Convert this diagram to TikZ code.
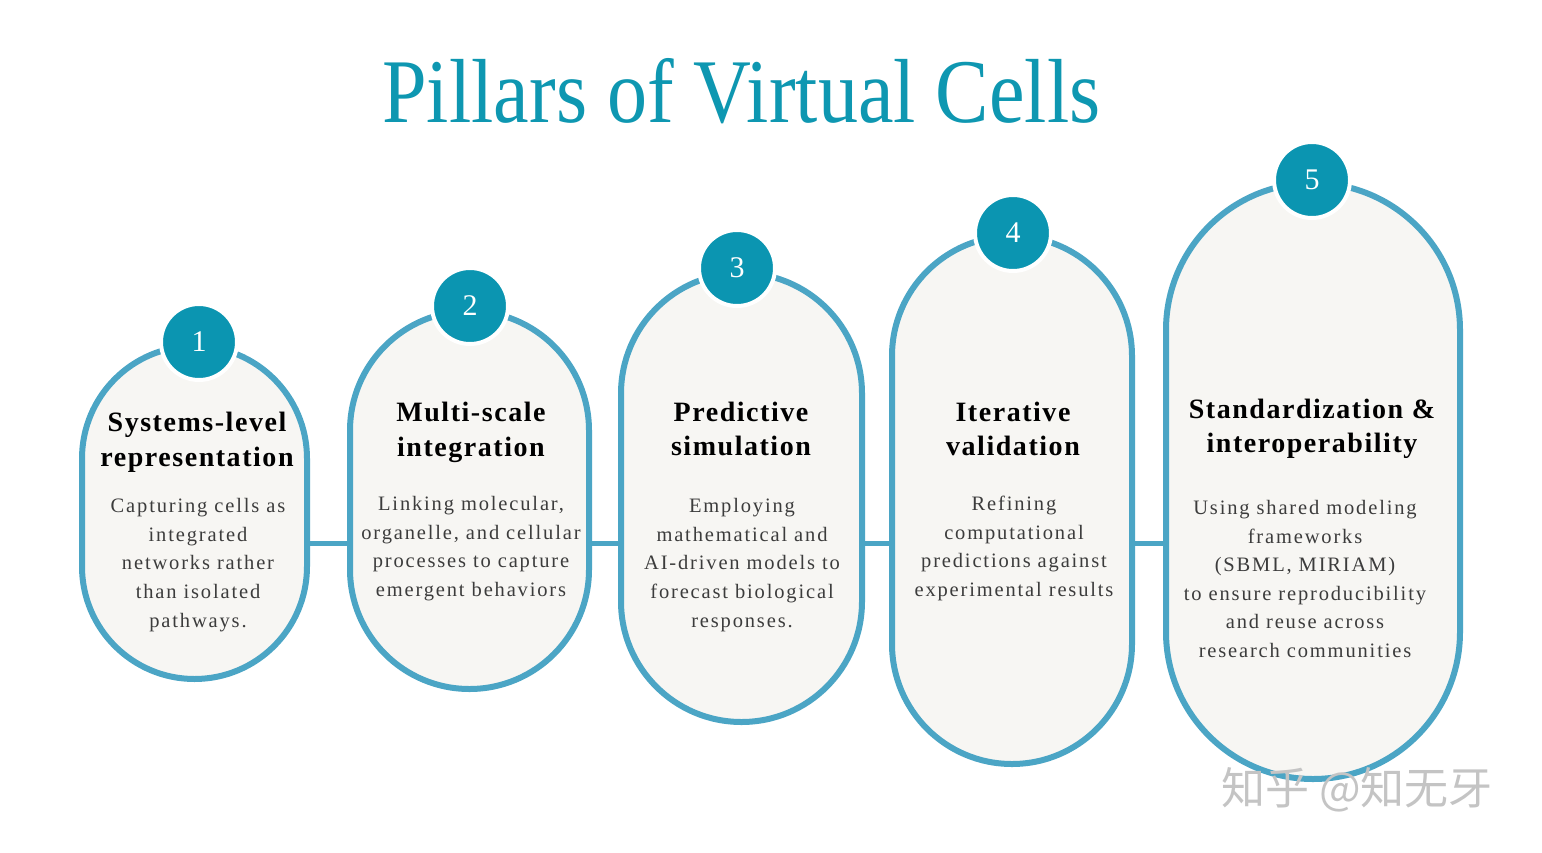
\documentclass[tikz,border=0pt]{standalone}
\usepackage{fontspec}
\setmainfont{Liberation Serif}
\newfontfamily\cjkfont{Noto Sans CJK SC}
\newfontfamily\headfont[LetterSpace=5.5]{Liberation Serif}
\newfontfamily\bodyfont[LetterSpace=9]{Liberation Serif}
\definecolor{teal}{HTML}{0B95B1}
\definecolor{ring}{HTML}{4BA5C5}
\definecolor{pillfill}{HTML}{F7F6F3}
\definecolor{bodygray}{HTML}{3C3C3C}
\definecolor{titlecol}{HTML}{0E97B1}
\definecolor{wm}{HTML}{C4C4C4}
\begin{document}
\begin{tikzpicture}[x=1pt,y=-1pt,
  pill/.style={draw=ring, fill=pillfill, line width=6pt, inner sep=0pt},
  numcirc/.style={circle, fill=teal, draw=white, line width=4pt, minimum size=76pt, inner sep=0pt,
    text=white, font=\fontsize{30}{30}\selectfont},
  link/.style={draw=ring, line width=5pt},
  head/.style={align=center, inner sep=0pt, text=black, font=\headfont\bfseries\fontsize{28}{34.5}\selectfont},
  body/.style={align=center, inner sep=0pt, text=bodygray, font=\bodyfont\fontsize{20.5}{28.6}\selectfont},
]
\useasboundingbox (0,0) rectangle (1542,852);
\fill[white] (0,0) rectangle (1542,852);

\node[anchor=base, text=titlecol, inner sep=0pt, font=\fontsize{91}{91}\selectfont] (title) at (741.5,122)
  {\scalebox{0.88}[1]{Pillars of Virtual Cells}};

% pills
\node[pill, minimum width=225pt, minimum height=333pt, rounded corners=112.5pt] (p1) at (194.5,512.5) {};
\node[pill, minimum width=239pt, minimum height=378pt, rounded corners=119.5pt] (p2) at (469.5,500) {};
\node[pill, minimum width=241pt, minimum height=449pt, rounded corners=120.5pt] (p3) at (741.5,497.5) {};
\node[pill, minimum width=240pt, minimum height=528pt, rounded corners=120pt] (p4) at (1012,500) {};
\node[pill, minimum width=294pt, minimum height=596pt, rounded corners=147pt] (p5) at (1313,481) {};

% connectors
\coordinate (cy) at (0,543);
\draw[link] (p1.east |- cy) -- (p2.west |- cy);
\draw[link] (p2.east |- cy) -- (p3.west |- cy);
\draw[link] (p3.east |- cy) -- (p4.west |- cy);
\draw[link] (p4.east |- cy) -- (p5.west |- cy);

% number circles
\node[numcirc] (n1) at (199,342) {1};
\node[numcirc] (n2) at (470,306) {2};
\node[numcirc] (n3) at (737,268) {3};
\node[numcirc] (n4) at (1013,233) {4};
\node[numcirc] (n5) at (1312,180) {5};

% headings
\node[head] (h1) at (197,442.5) {Systems-level\\representation};
\node[head] (h2) at (471,432.5) {Multi-scale\\integration};
\node[head] (h3) at (741,429) {Predictive\\simulation};
\node[head] (h4) at (1013,429) {Iterative\\validation};
\node[head] (h5) at (1312,429) {Standardization \&\\interoperability};

% bodies
\node[body] (b1) at (198,565) {Capturing cells as\\integrated\\networks rather\\than isolated\\pathways.};
\node[body] (b2) at (471,548.5) {Linking molecular,\\organelle, and cellular\\processes to capture\\emergent behaviors};
\node[body] (b3) at (742,565) {Employing\\mathematical and\\AI-driven models to\\forecast biological\\responses.};
\node[body] (b4) at (1014,548.5) {Refining\\computational\\predictions against\\experimental results};
\node[body] (b5) at (1305,579) {Using shared modeling\\frameworks\\(SBML, MIRIAM)\\to ensure reproducibility\\and reuse across\\research communities};

% watermark
\node[text=wm, inner sep=0pt, font=\cjkfont\fontsize{44}{44}\selectfont] (wmark) at (1357,790) {知乎 @知无牙};
\end{tikzpicture}
\end{document}
